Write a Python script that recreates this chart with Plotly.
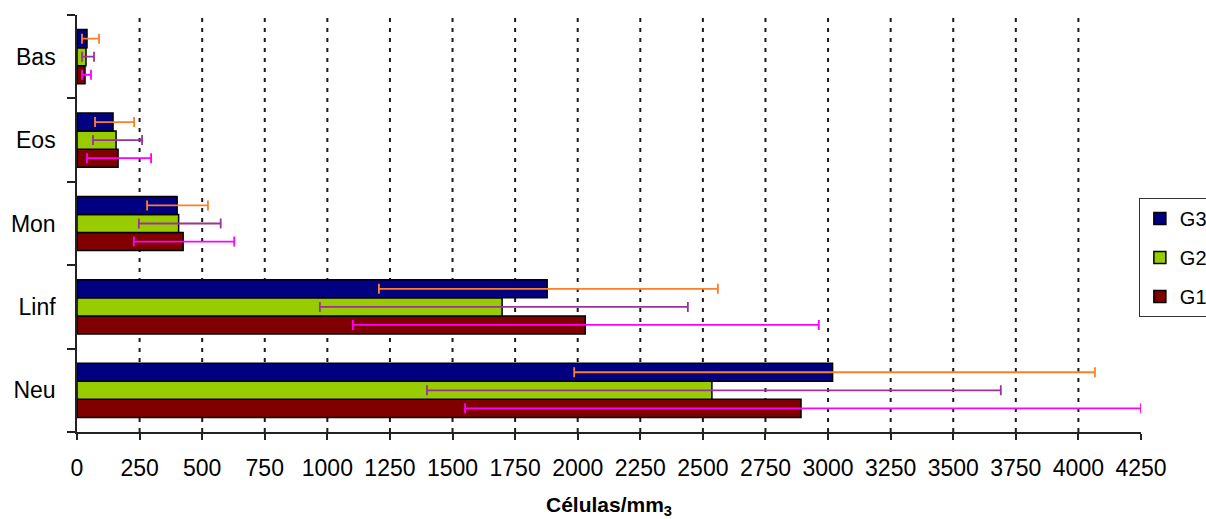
import plotly.graph_objects as go

# Leukocyte counts per group (cells/mm3)
categories = ["Bas", "Eos", "Mon", "Linf", "Neu"]
groups = ["G1", "G2", "G3"]

g1_values = [32, 164, 424, 2030, 2892]
g2_values = [36, 156, 406, 1698, 2536]
g3_values = [40, 144, 400, 1878, 3018]

# Error bar extents (above / below the mean)
g1_err_plus = [24, 132, 204, 933, 1358]
g1_err_minus = [12, 124, 197, 928, 1342]
g2_err_plus = [32, 104, 168, 742, 1154]
g2_err_minus = [16, 92, 159, 728, 1138]
g3_err_plus = [48, 84, 123, 682, 1048]
g3_err_minus = [20, 72, 120, 672, 1032]

x_ticks = list(range(0, 4251, 250))

bar_colors = {"G1": "#800000", "G2": "#99CC00", "G3": "#000080"}
err_colors = {"G1": "#FF00FF", "G2": "#993399", "G3": "#FF7F27"}
legend_rank = {"G1": 3, "G2": 2, "G3": 1}

series = {
    "G1": (g1_values, g1_err_plus, g1_err_minus),
    "G2": (g2_values, g2_err_plus, g2_err_minus),
    "G3": (g3_values, g3_err_plus, g3_err_minus),
}

FONT = "Liberation Sans, Arial, sans-serif"

fig = go.Figure()
for g in groups:
    vals, ep, em = series[g]
    fig.add_trace(go.Bar(
        name=g,
        legendgroup=g,
        legendrank=legend_rank[g],
        y=categories,
        x=vals,
        orientation="h",
        marker=dict(color=bar_colors[g], line=dict(color="black", width=1.5)),
        error_x=dict(type="data", symmetric=False, array=ep, arrayminus=em,
                     color=err_colors[g], thickness=1.8, width=5),
    ))

# dashed vertical gridlines at each interior tick
shapes = [
    dict(type="line", xref="x", yref="paper", x0=t, x1=t, y0=0, y1=1,
         line=dict(color="#1a1a1a", width=2, dash="4px,6px"), layer="below")
    for t in x_ticks[1:-1]
]

fig.update_layout(
    width=1206, height=519,
    margin=dict(l=77, r=65, t=15, b=87, autoexpand=False),
    paper_bgcolor="white", plot_bgcolor="white",
    barmode="group", bargap=0.35, bargroupgap=0,
    font=dict(family=FONT, color="black"),
    shapes=shapes,
    showlegend=True,
    legend=dict(
        x=0.998, xanchor="left", y=0.561, yanchor="top",
        traceorder="grouped", tracegroupgap=10,
        font=dict(size=20, family=FONT, color="black"),
        bgcolor="white", bordercolor="#333333", borderwidth=1,
    ),
    xaxis=dict(
        range=[0, 4250], tickvals=x_ticks, ticktext=[str(t) for t in x_ticks],
        showgrid=False, zeroline=False,
        showline=True, linecolor="#222222", linewidth=1.5,
        ticks="outside", ticklen=6, tickwidth=1.5, tickcolor="#222222",
        ticklabelstandoff=9,
        tickfont=dict(size=23, family=FONT, color="black"),
        title=dict(text="<b>Células/mm<sub>3</sub></b>", standoff=21,
                   font=dict(size=21, family=FONT, color="black")),
    ),
    yaxis=dict(
        type="category", categoryorder="array", categoryarray=categories[::-1],
        tickson="boundaries", ticks="outside", ticklen=8, tickwidth=1.5,
        tickcolor="#222222", showgrid=False, zeroline=False,
        showline=True, linecolor="#222222", linewidth=1.5,
        ticklabelstandoff=15,
        tickfont=dict(size=23, family=FONT, color="black"),
    ),
)

fig.write_html("out.html")
